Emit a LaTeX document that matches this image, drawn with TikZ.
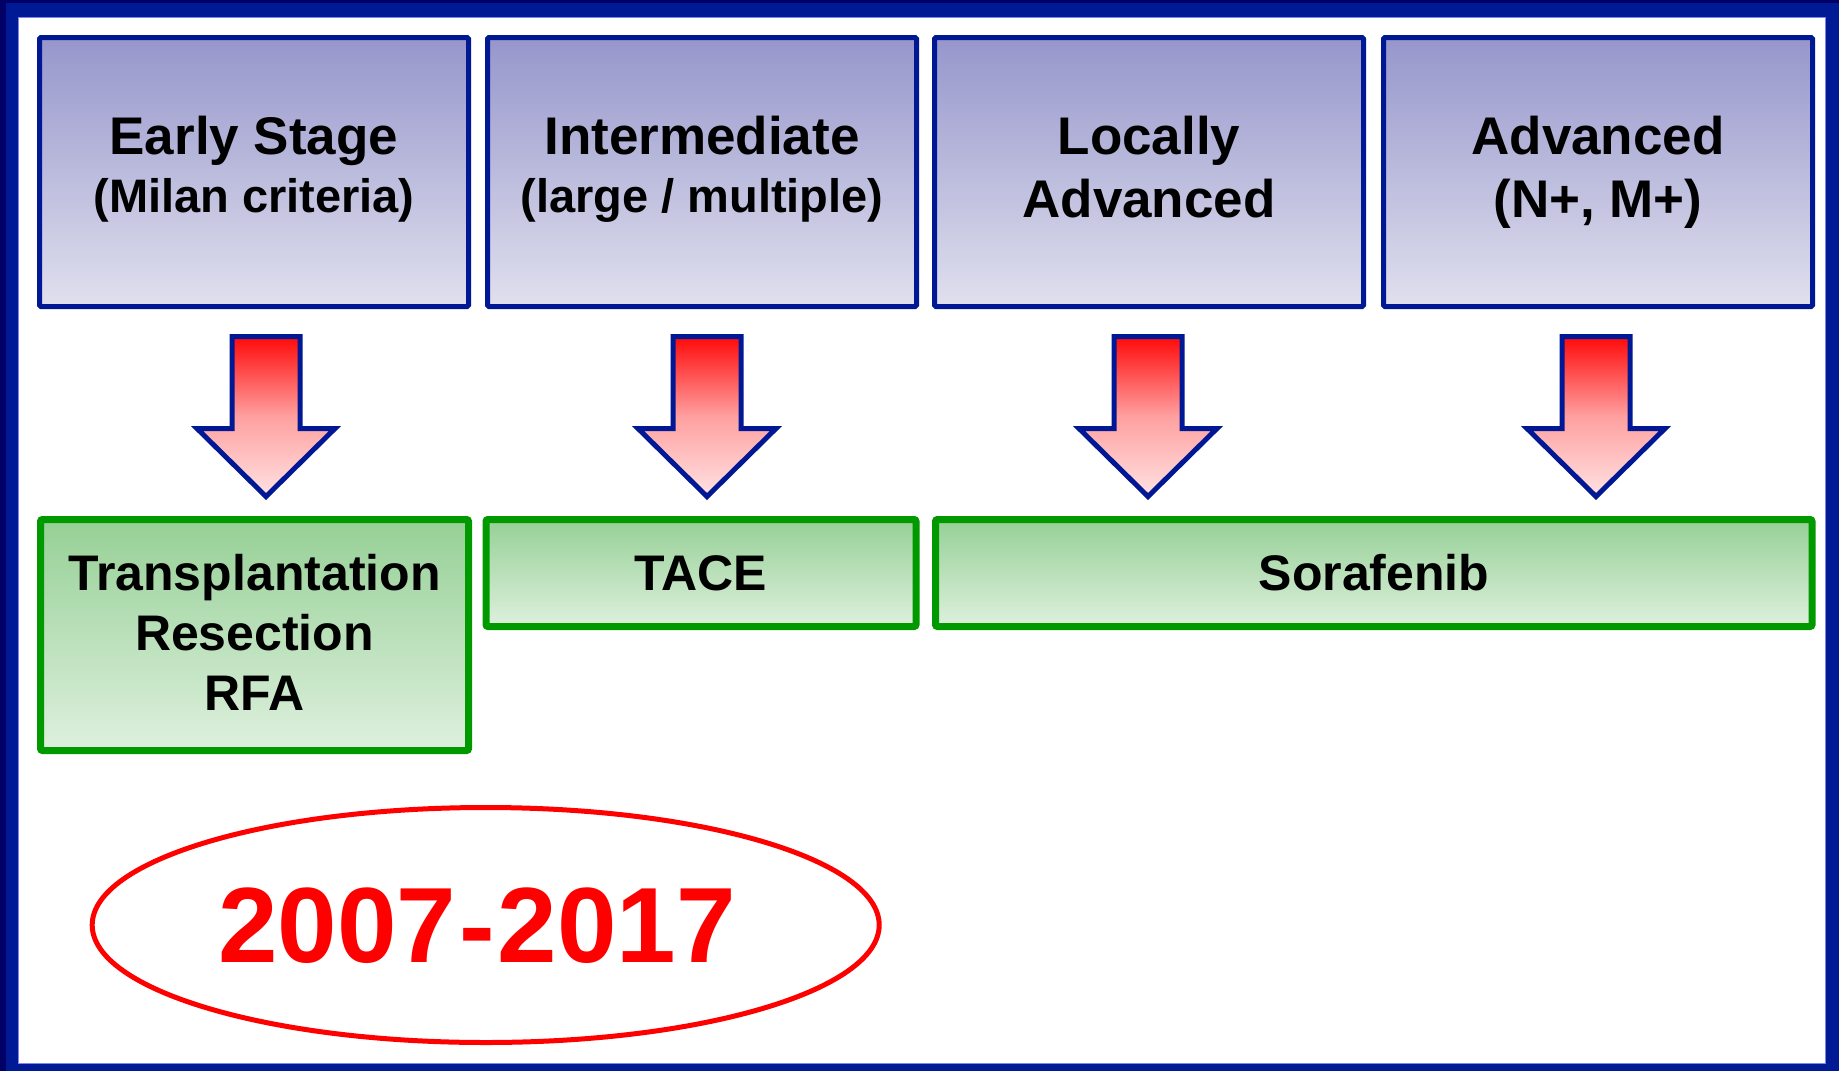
\documentclass[tikz,border=0pt]{standalone}
\usepackage{fontspec}
\setmainfont{Liberation Sans}
\usetikzlibrary{shapes.geometric}

\definecolor{framedark}{RGB}{0,0,102}
\definecolor{frameblue}{RGB}{0,26,150}
\definecolor{frameedge}{RGB}{130,130,240}
\definecolor{stagetop}{RGB}{150,150,204}
\definecolor{stagebot}{RGB}{224,224,238}
\definecolor{navyline}{RGB}{0,24,148}
\definecolor{treatline}{RGB}{0,153,0}
\definecolor{treattop}{RGB}{150,208,150}
\definecolor{treatbot}{RGB}{222,240,222}
\definecolor{arrowtop}{RGB}{255,10,10}
\definecolor{arrowmid}{RGB}{255,160,160}
\definecolor{arrowbot}{RGB}{255,226,226}
\definecolor{yearred}{RGB}{255,0,0}

\tikzset{
  stagebox/.style={rectangle, draw=navyline, line width=5, rounded corners=1.5,
    top color=stagetop, bottom color=stagebot, minimum width=429,
    minimum height=269, inner sep=0},
  treatbox/.style={rectangle, draw=treatline, line width=7, rounded corners=2,
    top color=treattop, bottom color=treatbot, inner sep=0},
  bigtxt/.style={inner sep=0, anchor=base, font=\fontsize{53}{60}\selectfont\bfseries},
  smalltxt/.style={inner sep=0, anchor=base, font=\fontsize{47}{54}\selectfont\bfseries},
  treattxt/.style={inner sep=0, anchor=base, font=\fontsize{50}{58}\selectfont\bfseries},
  yearoval/.style={ellipse, draw=yearred, line width=5, fill=white,
    minimum width=787, minimum height=235, inner sep=0},
  yeartxt/.style={inner sep=0, anchor=base, text=yearred,
    font=\fontsize{107}{120}\selectfont\bfseries},
  blockarrow/.pic={
    \path[draw=navyline, line width=5, line join=miter,
          top color=arrowtop, bottom color=arrowbot, middle color=arrowmid]
      (-34,0) -- (34,0) -- (34,92) -- (69,92) -- (0,160) -- (-69,92) -- (-34,92) -- cycle;
  }
}

\begin{document}
\begin{tikzpicture}[x=1pt, y=-1pt]
\useasboundingbox (0,0) rectangle (1839,1071);

% frame
\fill[framedark] (0,0) rectangle (1839,1071);
\fill[frameblue] (5.7,3) rectangle (1839,1071);
\filldraw[fill=white, draw=frameedge, line width=1] (18.5,17.5) rectangle (1825.5,1063);

% stage boxes
\node[stagebox] (s1) at (254,172) {};
\node[stagebox] (s2) at (702,172) {};
\node[stagebox] (s3) at (1149,172) {};
\node[stagebox] (s4) at (1598,172) {};

\node[bigtxt]   (s1a) at (254,154)   {Early Stage};
\node[smalltxt] (s1b) at (254,212.7) {(Milan criteria)};
\node[bigtxt]   (s2a) at (702,154)   {Intermediate};
\node[smalltxt] (s2b) at (702,212.7) {(large / multiple)};
\node[bigtxt]   (s3a) at (1149,154)  {Locally};
\node[bigtxt]   (s3b) at (1149,217.7){Advanced};
\node[bigtxt]   (s4a) at (1598,154)  {Advanced};
\node[bigtxt]   (s4b) at (1598,217.7){(N+, M+)};

% block arrows
\pic (a1) at (266,336.5)  {blockarrow};
\pic (a2) at (707,336.5)  {blockarrow};
\pic (a3) at (1148,336.5) {blockarrow};
\pic (a4) at (1596,336.5) {blockarrow};

% treatment boxes
\node[treatbox, minimum width=428, minimum height=231] (t1) at (254.5,635) {};
\node[treatbox, minimum width=430, minimum height=107] (t2) at (701,573) {};
\node[treatbox, minimum width=876.5, minimum height=107] (t3) at (1373.75,573) {};

\node[treattxt] (t1a) at (254.5,590)   {Transplantation};
\node[treattxt] (t1b) at (254.5,650.3) {Resection};
\node[treattxt] (t1c) at (254.5,710.7) {RFA};
\node[treattxt] (t2a) at (701,590)     {TACE};
\node[treattxt] (t3a) at (1374,590)    {Sorafenib};

% period
\node[yearoval] (yr) at (485.7,925) {};
\node[yeartxt] (yrt) at (477,962) {2007\kern3pt-\kern3pt2017};
\end{tikzpicture}
\end{document}
